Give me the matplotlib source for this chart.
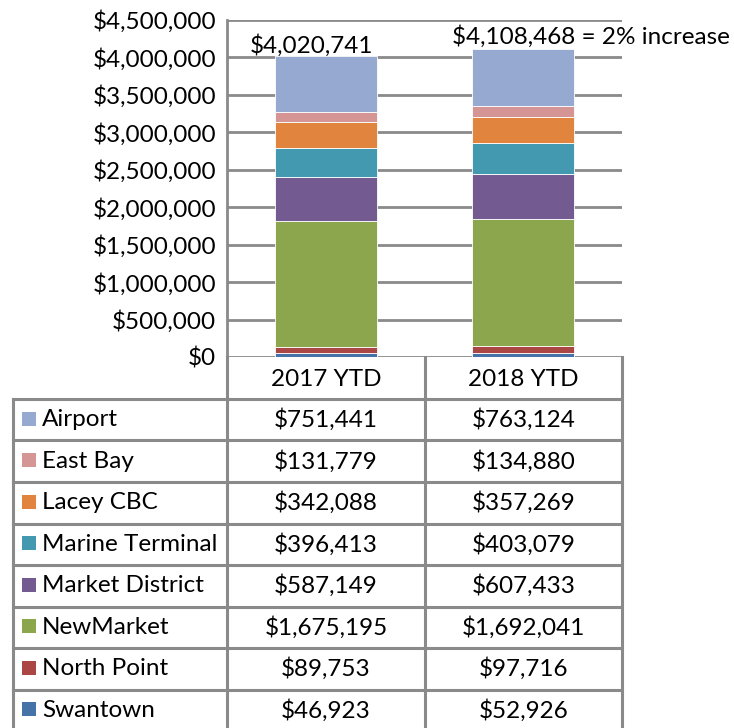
import matplotlib
matplotlib.use("Agg")
import matplotlib.pyplot as plt
from matplotlib.lines import Line2D
from matplotlib.patches import Rectangle
from matplotlib.ticker import FuncFormatter

plt.rcParams['font.family'] = ['Lato', 'DejaVu Sans']

categories = ["2017 YTD", "2018 YTD"]
series_names = ["Airport", "East Bay", "Lacey CBC", "Marine Terminal",
                "Market District", "NewMarket", "North Point", "Swantown"]
airport = [751441, 763124]
east_bay = [131779, 134880]
lacey_cbc = [342088, 357269]
marine_terminal = [396413, 403079]
market_district = [587149, 607433]
newmarket = [1675195, 1692041]
north_point = [89753, 97716]
swantown = [46923, 52926]
series_values = [airport, east_bay, lacey_cbc, marine_terminal,
                 market_district, newmarket, north_point, swantown]
colors = ["#95A9D1", "#D69595", "#E0843E", "#4299B0",
          "#735A91", "#8BA64C", "#AA4643", "#4572A7"]
yticks = [0, 500000, 1000000, 1500000, 2000000, 2500000, 3000000, 3500000, 4000000, 4500000]

W, H = 734, 728
fig = plt.figure(figsize=(W / 100, H / 100), dpi=100)

def fx(px):
    return px / W

def fy(py):
    return 1 - py / H

ax_l, ax_r, ax_t, ax_b = 227, 622, 20, 357
ax = fig.add_axes([fx(ax_l), fy(ax_b), fx(ax_r - ax_l), (ax_b - ax_t) / H])

GRID = "#8a8a8a"
FS = 17.5

x = list(range(len(categories)))
bottom = [0] * len(categories)
# stack from bottom (Swantown) to top (Airport)
for name, vals, col in reversed(list(zip(series_names, series_values, colors))):
    ax.bar(x, vals, width=0.515, bottom=bottom, color=col, edgecolor="white",
           linewidth=0.6, zorder=3)
    bottom = [b + v for b, v in zip(bottom, vals)]

totals = bottom
ax.set_xlim(-0.5, len(categories) - 0.5)
ax.set_ylim(0, 4500000)
ax.set_yticks(yticks)
ax.yaxis.set_major_formatter(FuncFormatter(lambda v, p: f"${v:,.0f}"))
ax.tick_params(axis="y", length=0, pad=8, labelsize=FS)
ax.set_xticks([])
ax.grid(axis="y", color=GRID, linewidth=2, zorder=0)
for s in ["top", "right", "bottom"]:
    ax.spines[s].set_visible(False)
ax.spines["left"].set_color(GRID)
ax.spines["left"].set_linewidth(2)

pct = round((totals[1] / totals[0] - 1) * 100)
ax.annotate(f"${totals[0]:,}", xy=(0, totals[0]), xytext=(-10, -1),
            textcoords="offset points", ha="center", va="bottom", fontsize=FS)
ax.annotate(f"${totals[1]:,} = {pct}% increase", xy=(1, totals[1]), xytext=(-51, 1),
            textcoords="offset points", ha="left", va="bottom", fontsize=FS)

# data table
col_x = [13, 227, 425, 622]
header_top = 357
row_h = 41.5
first_row = 399
rows_y = [first_row + i * row_h for i in range(len(series_names) + 1)]

def hline(y, x0, x1):
    fig.add_artist(Line2D([fx(x0), fx(x1)], [fy(y), fy(y)], color=GRID, linewidth=2.2))

def vline(x0, y0, y1):
    fig.add_artist(Line2D([fx(x0), fx(x0)], [fy(y0), fy(y1)], color=GRID, linewidth=2.2))

for y in rows_y:
    hline(y, col_x[0], col_x[3])
vline(col_x[0], first_row, H + 5)
for cx in col_x[1:]:
    vline(cx, header_top, H + 5)

for j, cat in enumerate(categories):
    cx = (col_x[j + 1] + col_x[j + 2]) / 2
    fig.text(fx(cx), fy((header_top + first_row) / 2 + 2), cat, ha="center", va="center", fontsize=FS)

for i, (name, vals, col) in enumerate(zip(series_names, series_values, colors)):
    yc = first_row + i * row_h + row_h / 2
    sq = 14
    fig.add_artist(Rectangle((fx(22), fy(yc + sq / 2 - 1)), fx(sq), sq / H,
                             facecolor=col, edgecolor="none"))
    fig.text(fx(42), fy(yc), name, ha="left", va="center", fontsize=FS)
    for j, v in enumerate(vals):
        cx = (col_x[j + 1] + col_x[j + 2]) / 2
        fig.text(fx(cx), fy(yc), f"${v:,}", ha="center", va="center", fontsize=FS)

fig.savefig("out.png", dpi=100, facecolor="white")
